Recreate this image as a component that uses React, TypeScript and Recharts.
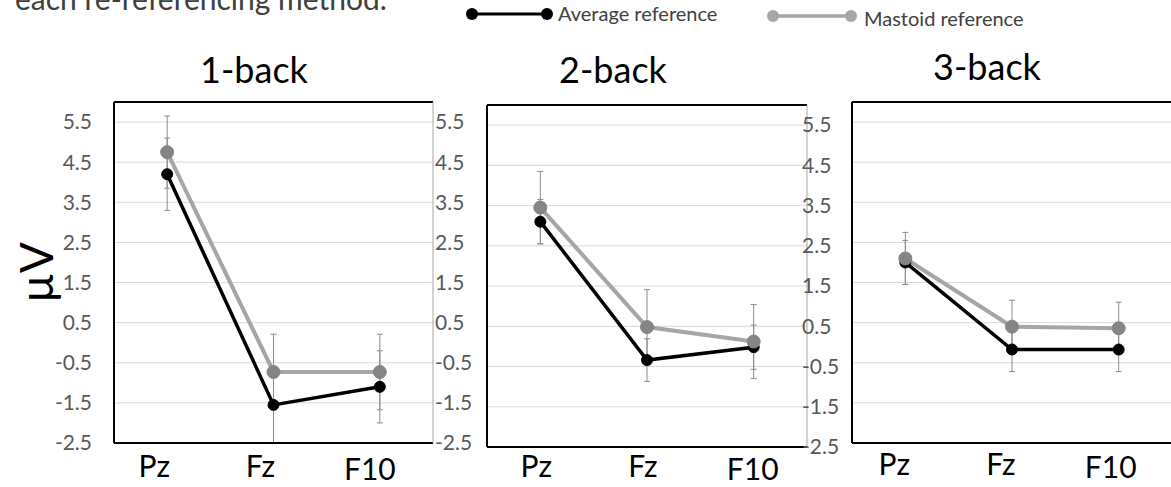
import React from 'react';
import { LineChart, Line, XAxis, YAxis, CartesianGrid, ErrorBar, ReferenceLine } from 'recharts';

// electrode sites on the x axis
const sites = ['Pz', 'Fz', 'F10'];
const panelTitles = ['1-back', '2-back', '3-back'];
const yTicks = [-2.5, -1.5, -0.5, 0.5, 1.5, 2.5, 3.5, 4.5, 5.5];

// mean amplitude (µV) per site, average reference
const average1 = [4.2, -1.55, -1.1];
const average2 = [3.1, -0.34, -0.02];
const average3 = [2.0, -0.17, -0.17];
// mastoid reference
const mastoid1 = [4.75, -0.73, -0.73];
const mastoid2 = [3.45, 0.48, 0.12];
const mastoid3 = [2.1, 0.4, 0.36];
// error bar half-lengths
const averageErr1 = [0.9, 0.94, 0.9];
const averageErr2 = [0.55, 0.53, 0.55];
const averageErr3 = [0.55, 0.55, 0.55];
const mastoidErr1 = [0.9, 0.94, 0.94];
const mastoidErr2 = [0.9, 0.93, 0.92];
const mastoidErr3 = [0.65, 0.66, 0.65];

const W = 1200;
const H = 487;
const FONT = 'Lato, "Open Sans", sans-serif';

const buildRows = (avg: number[], avgErr: number[], mast: number[], mastErr: number[]) =>
  sites.map((site, i) => ({ idx: i, site, avg: avg[i], avgErr: avgErr[i], mast: mast[i], mastErr: mastErr[i] }));

const panelData = [
  buildRows(average1, averageErr1, mastoid1, mastoidErr1),
  buildRows(average2, averageErr2, mastoid2, mastoidErr2),
  buildRows(average3, averageErr3, mastoid3, mastoidErr3),
];

// plot-area boxes and label nudges for each panel
const frames = [
  { left: 114, top: 102, right: 433, bottom: 443, leftLabels: true, rightAxis: true, rightDx: 2, siteDx: -13, siteDy: 34 },
  { left: 487, top: 105, right: 807, bottom: 447, leftLabels: false, rightAxis: true, rightDx: -5, siteDx: -4, siteDy: 30 },
  { left: 852, top: 102, right: 1172, bottom: 443, leftLabels: false, rightAxis: false, rightDx: 0, siteDx: -11, siteDy: 32 },
];

const fmt = (v: number) => v.toFixed(1);

function Panel({ rows, frame, showYLabel }: any) {
  const leftTick = (p: any) =>
    frame.leftLabels ? (
      <text x={p.x - 22} y={p.y} dy="0.35em" textAnchor="end" fill="#595959" fontSize={21} fontFamily={FONT}>
        {fmt(p.payload.value)}
      </text>
    ) : (
      <g />
    );
  const rightTick = (p: any) => (
    <text x={p.x + frame.rightDx} y={p.y} dy="0.35em" textAnchor="start" fill="#595959" fontSize={21} fontFamily={FONT}>
      {fmt(p.payload.value)}
    </text>
  );
  const siteTick = (p: any) => {
    const name = sites[p.payload.value];
    const extra = name === 'F10' ? 3 : 0;
    return (
      <text x={p.x + frame.siteDx + extra} y={p.y + frame.siteDy + extra} textAnchor="middle" fill="#000" fontSize={30} fontFamily={FONT}>
        {name}
      </text>
    );
  };
  const yLabel = (p: any) => {
    const vb = p.viewBox;
    const cx = vb.x + 21;
    const cy = vb.y + vb.height / 2;
    return (
      <text x={cx} y={cy} transform={`rotate(-90 ${cx} ${cy})`} textAnchor="middle" dominantBaseline="central" fontSize={46} fill="#000" fontFamily={FONT}>
        µV
      </text>
    );
  };

  const margin = {
    top: frame.top,
    bottom: H - frame.bottom - 40,
    left: frame.left - 100,
    right: frame.rightAxis ? W - frame.right - 40 : W - frame.right,
  };

  return (
    <div style={{ position: 'absolute', left: 0, top: 0 }}>
      <LineChart width={W} height={H} data={rows} margin={margin}>
        <CartesianGrid vertical={false} stroke="#d9d9d9" strokeWidth={1} />
        <XAxis
          dataKey="idx"
          type="number"
          domain={[-0.5, 2.5]}
          ticks={[0, 1, 2]}
          height={40}
          axisLine={{ stroke: '#000', strokeWidth: 2 }}
          tickLine={false}
          tickSize={0}
          tickMargin={0}
          tick={siteTick}
        />
        <YAxis
          type="number"
          domain={[-2.5, 6]}
          ticks={yTicks}
          width={100}
          axisLine={{ stroke: '#000', strokeWidth: 2 }}
          tickLine={false}
          tickSize={0}
          tickMargin={0}
          tick={leftTick}
          label={showYLabel ? { content: yLabel } : undefined}
        />
        {frame.rightAxis && (
          <YAxis
            yAxisId="r"
            orientation="right"
            type="number"
            domain={[-2.5, 6]}
            ticks={yTicks}
            width={40}
            axisLine={{ stroke: '#a6a6a6', strokeWidth: 1 }}
            tickLine={false}
            tickSize={0}
            tickMargin={0}
            tick={rightTick}
          />
        )}
        {frame.rightAxis && (
          // secondary axis needs a series bound to it to be drawn; this one is invisible
          <Line yAxisId="r" dataKey="avg" stroke="none" dot={false} activeDot={false} isAnimationActive={false} />
        )}
        <ReferenceLine y={6} stroke="#000" strokeWidth={2} />
        <Line
          dataKey="avg"
          stroke="#000"
          strokeWidth={3.5}
          dot={{ r: 5.5, fill: '#000', stroke: '#000', strokeWidth: 1 }}
          activeDot={false}
          isAnimationActive={false}
        >
          <ErrorBar dataKey="avgErr" direction="y" width={3} stroke="#8c8c8c" strokeWidth={1} />
        </Line>
        <Line
          dataKey="mast"
          stroke="#a6a6a6"
          strokeWidth={4}
          dot={{ r: 6.5, fill: '#858585', stroke: '#858585', strokeWidth: 1 }}
          activeDot={false}
          isAnimationActive={false}
        >
          <ErrorBar dataKey="mastErr" direction="y" width={3} stroke="#8c8c8c" strokeWidth={1} />
        </Line>
      </LineChart>
    </div>
  );
}

export default function App() {
  const titlePos = [
    [254, 83],
    [613, 83],
    [987, 80],
  ];
  return (
    <div style={{ position: 'absolute', left: 0, top: 0, width: 1171, height: 487, overflow: 'hidden', background: '#fff' }}>
      {panelData.map((rows, i) => (
        <Panel key={i} rows={rows} frame={frames[i]} showYLabel={i === 0} />
      ))}
      <svg width={1171} height={487} style={{ position: 'absolute', left: 0, top: 0, pointerEvents: 'none' }} fontFamily={FONT}>
        <text x={15} y={10} fontSize={30} fill="#404040">
          each re-referencing method.
        </text>
        {/* legend */}
        <line x1={472} y1={14} x2={547} y2={14} stroke="#000" strokeWidth={3} />
        <circle cx={472} cy={14} r={6} fill="#000" />
        <circle cx={547} cy={14} r={6} fill="#000" />
        <text x={558} y={21} fontSize={20} fill="#404040">
          Average reference
        </text>
        <line x1={773} y1={16} x2={851} y2={16} stroke="#a6a6a6" strokeWidth={3.5} />
        <circle cx={773} cy={16} r={6} fill="#a6a6a6" />
        <circle cx={851} cy={16} r={6} fill="#a6a6a6" />
        <text x={864} y={26} fontSize={20} fill="#404040">
          Mastoid reference
        </text>
        {panelTitles.map((t, i) => (
          <text key={t} x={titlePos[i][0]} y={titlePos[i][1]} textAnchor="middle" fontSize={36} fill="#000">
            {t}
          </text>
        ))}
      </svg>
    </div>
  );
}
